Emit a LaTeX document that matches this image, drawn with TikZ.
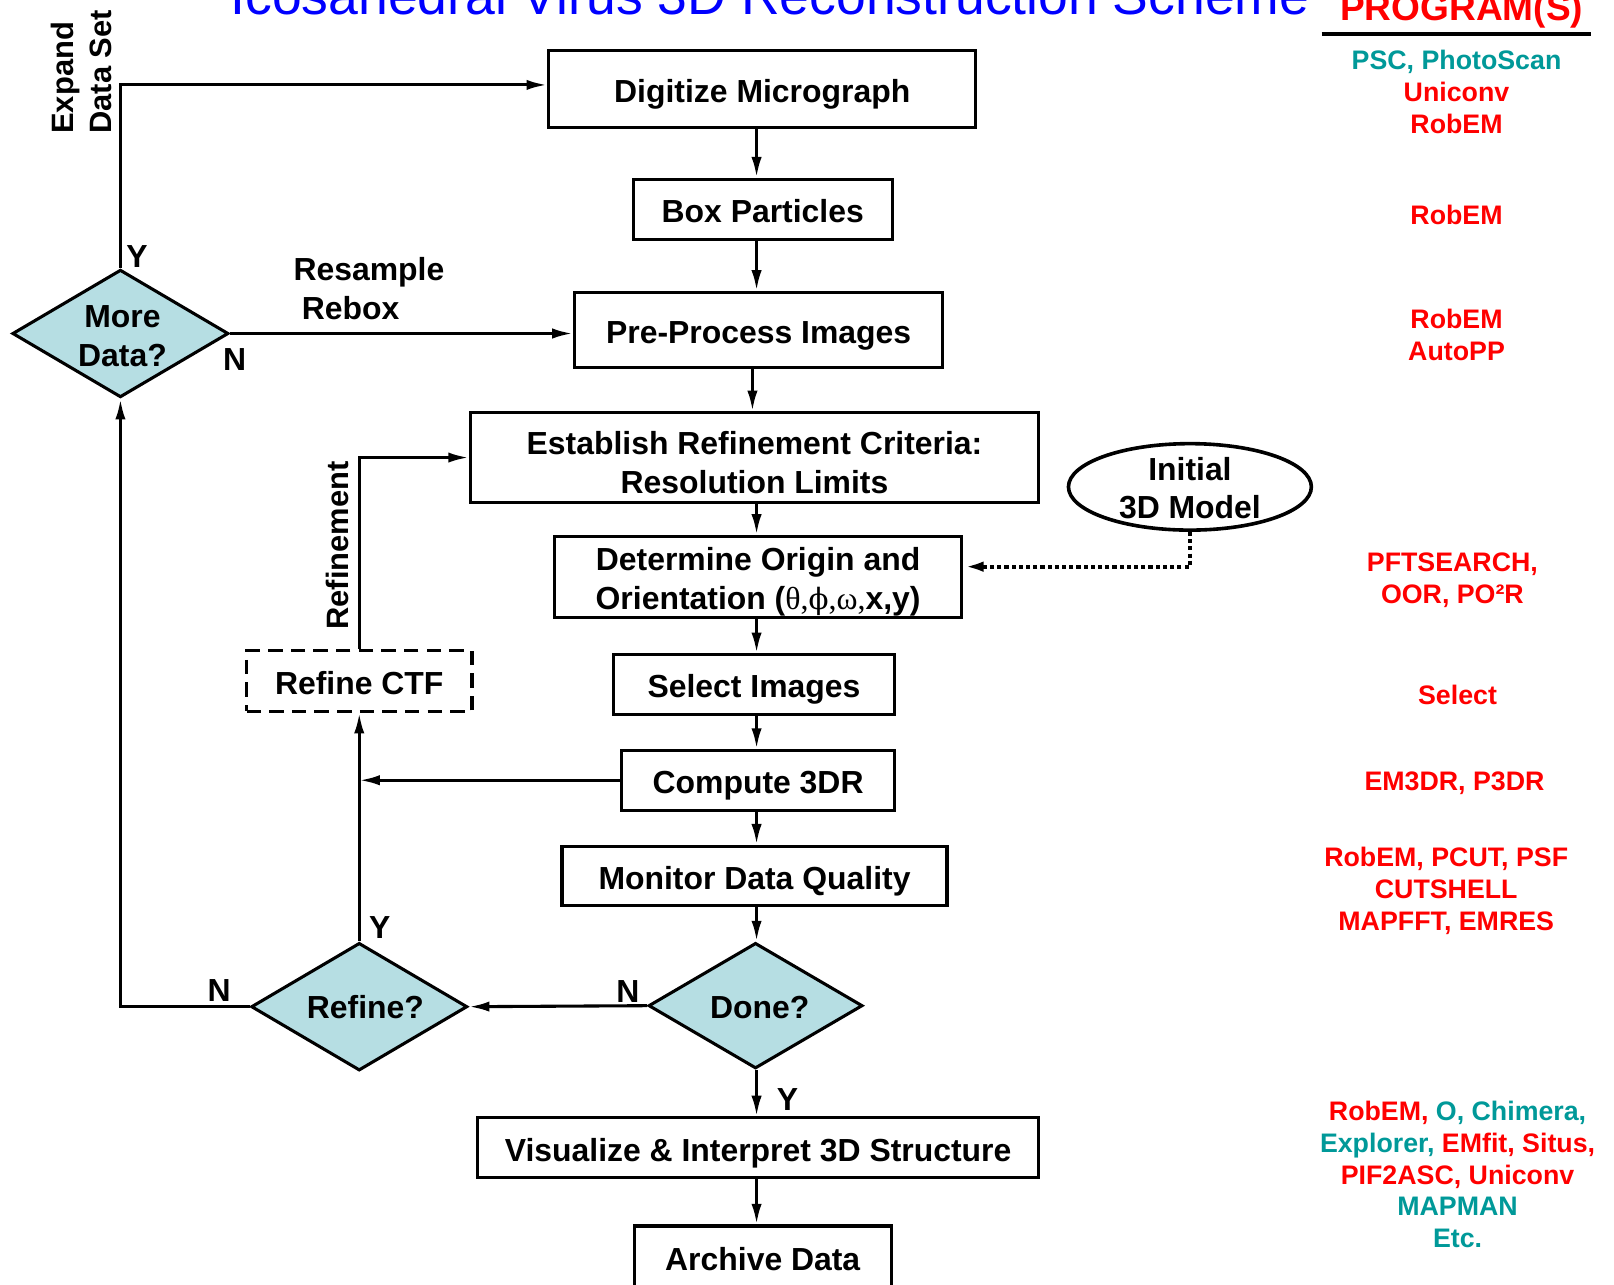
\documentclass[tikz,border=0pt]{standalone}
\usepackage{fontspec}
\setmainfont{Liberation Sans}
\newfontfamily\greekserif{Liberation Serif}
\newfontfamily\phiserif[Scale=0.92]{DejaVu Serif}
\usetikzlibrary{arrows.meta,shapes.geometric}

\definecolor{progred}{RGB}{255,0,0}
\definecolor{progteal}{RGB}{0,153,153}
\definecolor{titleblue}{RGB}{0,0,255}
\definecolor{decfill}{RGB}{182,222,227}

\newcommand{\boxfont}{\fontsize{31}{38}\selectfont\bfseries}
\newcommand{\progfont}{\fontsize{26}{31}\selectfont\bfseries}

\begin{document}
\begin{tikzpicture}[x=1pt,y=-1pt,
  stepbox/.style={draw, line width=3pt, inner sep=0pt, font=\boxfont, align=center,
                  text height=32.5pt, text depth=6.5pt},
  twoline/.style={draw, line width=3pt, inner sep=0pt},
  decision/.style={diamond, draw, line width=3pt, fill=decfill, inner sep=0pt},
  arr/.style={line width=3pt, -{Latex[length=20pt,width=10pt]}},
  dotarr/.style={line width=4pt, dash pattern=on 4pt off 3pt, -{Latex[length=20pt,width=10pt]}},
  lbl/.style={font=\boxfont, inner sep=0pt},
  prog/.style={font=\progfont, inner sep=0pt, align=center},
]
\fill[white] (0,0) rectangle (1568,1248);
\useasboundingbox (0,0) rectangle (1568,1248);

% heading and program column header
\node[font=\fontsize{52}{60}\selectfont, text=titleblue, anchor=base, inner sep=0pt] (title) at (748,14) {Icosahedral Virus 3D Reconstruction Scheme};
\node[font=\fontsize{36}{40}\selectfont\bfseries, text=progred, anchor=base, inner sep=0pt] (proghead) at (1420,20) {PROGRAM(S)};
\draw[line width=4pt] (1284,33) -- (1546,33);

% processing steps
\node[stepbox, minimum width=415pt, minimum height=75pt] (dig) at (740.5,86.5) {Digitize Micrograph};
\node[stepbox, minimum width=252pt, minimum height=59pt] (box) at (741,203.5) {Box Particles};
\node[stepbox, minimum width=358pt, minimum height=73pt] (pre) at (737,320.5) {Pre-Process Images};
\node[twoline, minimum width=552pt, minimum height=87pt,
      label={[lbl, align=center, yshift=-5pt]center:Establish Refinement Criteria:\\Resolution Limits}] (est) at (733,444.5) {};
\node[twoline, minimum width=395pt, minimum height=79pt,
      label={[lbl, align=center, yshift=-5pt]center:Determine Origin and\\Orientation ({\greekserif\mdseries θ,{\phiserif\mdseries ϕ},ω,}x,y)}] (det) at (736.5,560.5) {};
\node[stepbox, minimum width=273pt, minimum height=58pt] (sel) at (732.5,665) {Select Images};
\node[stepbox, minimum width=265pt, minimum height=58pt] (comp) at (736.5,758) {Compute 3DR};
\node[stepbox, minimum width=374pt, minimum height=58pt] (mon) at (733,851) {Monitor Data Quality};
\node[stepbox, minimum width=545pt, minimum height=58pt] (vis) at (736.5,1115) {Visualize \& Interpret 3D Structure};
\node[stepbox, minimum width=250pt, minimum height=60pt] (arch) at (741,1221) {Archive Data};
\node[stepbox, dash pattern=on 14pt off 8pt, minimum width=219pt, minimum height=59pt] (ctf) at (349,661.5) {Refine CTF};

% decisions
\node[decision, minimum width=208pt, minimum height=122pt,
      label={[lbl, align=center, xshift=4pt, yshift=-2pt]center:Done?}] (done) at (734,977) {};
\node[decision, minimum width=210pt, minimum height=124pt,
      label={[lbl, align=center, xshift=6pt]center:Refine?}] (refine) at (349,978) {};
\node[decision, minimum width=210pt, minimum height=124pt,
      label={[lbl, align=center, xshift=2pt, yshift=-2.5pt]center:More\\Data?}] (more) at (117,324) {};

% starting model
\node[ellipse, draw, line width=3.5pt, inner sep=0pt, minimum width=236pt, minimum height=84pt,
      label={[lbl, align=center, yshift=-1pt, font=\fontsize{31}{37}\selectfont\bfseries]center:Initial\\3D Model}] (init) at (1156,473) {};

% main flow
\coordinate (spine) at (735,0);
\coordinate (spineB) at (731,0);
\draw[arr] (dig.south -| spine) -- (box.north -| spine);
\draw[arr] (box.south -| spine) -- (pre.north -| spine);
\draw[arr] (pre.south -| spineB) -- (est.north -| spineB);
\draw[arr] (est.south -| spine) -- (det.north -| spine);
\draw[arr] (det.south -| spine) -- (sel.north -| spine);
\draw[arr] (sel.south -| spine) -- (comp.north -| spine);
\draw[arr] (comp.south -| spine) -- (mon.north -| spine);
\draw[arr] (mon.south -| spine) -- (done.north -| spine);
\draw[arr] (done.south -| spine) -- (vis.north -| spine);
\draw[arr] (vis.south -| spine) -- (arch.north -| spine);

% feedback loops
\draw[arr] (done.west) -- (refine.east);
\draw[arr] (refine.north) -- (ctf.south);
\draw[arr] (comp.west) -- (comp.west -| refine.north);
\draw[arr] (ctf.north) |- (est.west);
\draw[arr] (refine.west) -| (more.south);
\draw[arr] (more.north) |- ([yshift=4pt]dig.west);
\draw[arr] (more.east) -- (more.east -| pre.west);
\draw[dotarr] (init.south) |- ([yshift=10pt]det.east);

% branch labels
\node[lbl] (ymore) at (133,249) {Y};
\node[lbl] (nmore) at (228,349) {N};
\node[lbl] (ydone) at (765,1068) {Y};
\node[lbl] (ndone) at (610,963) {N};
\node[lbl] (yref) at (369,901) {Y};
\node[lbl] (nref) at (213,962) {N};
\node[lbl, align=left, anchor=west] (resample) at (285,280.5) {Resample\\\hspace*{8pt}Rebox};
\node[lbl, rotate=90, align=left, anchor=west, font=\fontsize{30}{37}\selectfont\bfseries] (expand) at (79,130) {Expand\\Data Set};
\node[lbl, rotate=90, font=\fontsize{30}{36}\selectfont\bfseries] (refinement) at (328,530) {Refinement};

% program column
\node[prog] (p1) at (1415,89) {\textcolor{progteal}{PSC, PhotoScan}\\\textcolor{progred}{Uniconv}\\\textcolor{progred}{RobEM}};
\node[prog, text=progred] (p2) at (1415,209) {RobEM};
\node[prog, text=progred] (p3) at (1415,325.5) {RobEM\\AutoPP};
\node[prog, text=progred] (p4) at (1411,563.5) {PFTSEARCH,\\OOR, PO²R};
\node[prog, text=progred] (p5) at (1416,675) {Select};
\node[prog, text=progred] (p6) at (1413,761) {EM3DR, P3DR};
\node[prog, text=progred] (p7) at (1405,865.5) {RobEM, PCUT, PSF\\CUTSHELL\\MAPFFT, EMRES};
\node[prog] (p8) at (1416,1141) {\textcolor{progred}{RobEM,} \textcolor{progteal}{O, Chimera,}\\\textcolor{progteal}{Explorer,} \textcolor{progred}{EMfit, Situs,}\\\textcolor{progred}{PIF2ASC, Uniconv}\\\textcolor{progteal}{MAPMAN}\\\textcolor{progteal}{Etc.}};

\end{tikzpicture}
\end{document}
